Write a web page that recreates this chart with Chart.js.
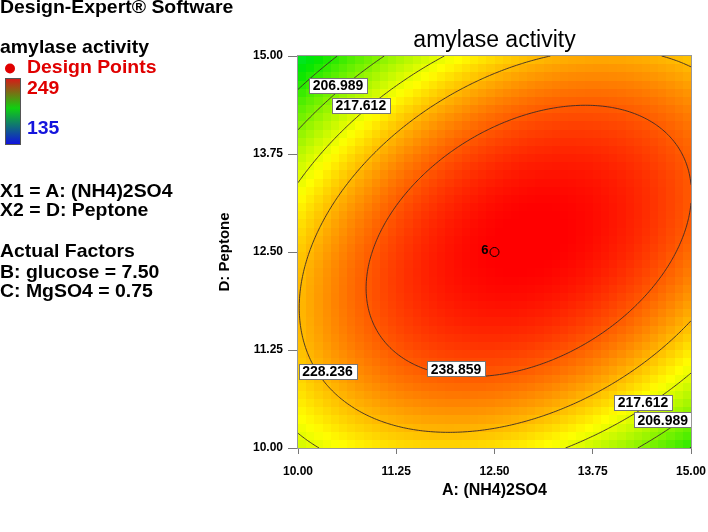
<!DOCTYPE html>
<html>
<head>
<meta charset="utf-8">
<script src="https://cdn.jsdelivr.net/npm/chart.js@4.4.1/dist/chart.umd.min.js"></script>
<style>
html,body{margin:0;padding:0;background:#fff;}
#wrap{position:relative;width:708px;height:532px;overflow:hidden;}
#c{position:absolute;left:0;top:0;}
#panel{position:absolute;left:0;top:0;}
</style>
</head>
<body>
<div id="wrap">
<canvas id="c" width="708" height="532"></canvas>
<svg id="panel" width="260" height="320" xmlns="http://www.w3.org/2000/svg"></svg>
</div>
<script>
// ---------- data ----------
const chartTitle = 'amylase activity';
const xTitle = 'A: (NH4)2SO4';
const yTitle = 'D: Peptone';
const tickValues = [10.00, 11.25, 12.50, 13.75, 15.00];
const tickLabels = ['10.00', '11.25', '12.50', '13.75', '15.00'];
// quadratic response-surface model in coded units (a, d in [-1, 1]), estimated from the contours
const modelTerms = ['Intercept', 'A', 'D', 'AD', 'A^2', 'D^2'];
const modelCoef = [249.1, 5.37, 0.29, 14.83, -17.8, -25.46];
const contourLevels = [196.366, 206.989, 217.612, 228.236, 238.859];
const contourLabelText = ['206.989', '217.612', '228.236', '238.859', '217.612', '206.989'];
const contourLabelA = [10.51, 10.80, 10.375, 12.01, 14.39, 14.64];
const contourLabelD = [14.63, 14.375, 10.98, 11.01, 10.58, 10.36];
const designA = [12.5];
const designD = [12.5];
const designRun = ['6'];
const colorMin = 135;
const colorMax = 249;
const panelLines = ['X1 = A: (NH4)2SO4', 'X2 = D: Peptone', 'Actual Factors', 'B: glucose = 7.50', 'C: MgSO4 = 0.75'];
const gridCells = 48;
const contourGrid = 160;

// ---------- helpers ----------
const aMin = tickValues[0], aMax = tickValues[tickValues.length - 1];
const mid = (aMin + aMax) / 2, half = (aMax - aMin) / 2;
function response(A, D) {
  const a = (A - mid) / half, d = (D - mid) / half;
  const k = modelCoef;
  return k[0] + k[1] * a + k[2] * d + k[3] * a * d + k[4] * a * a + k[5] * d * d;
}
function surfaceColor(v) {
  let t = (colorMax - v) / (colorMax - colorMin);
  t = Math.max(0, Math.min(1, t));
  const h = 240 * t;
  let r, g, b;
  if (h < 60) { r = 255; g = 255 * h / 60; b = 0; }
  else if (h < 120) { r = 255 * (120 - h) / 60; g = 255 - 25 * (h - 60) / 60; b = 0; }
  else if (h < 180) { r = 0; g = 230; b = 230 * (h - 120) / 60; }
  else { r = 0; g = 230 * (240 - h) / 60; b = 230; }
  return 'rgb(' + Math.round(r) + ',' + Math.round(g) + ',' + Math.round(b) + ')';
}

// ---------- left information panel ----------
(function buildPanel() {
  const svg = document.getElementById('panel');
  const NS = 'http://www.w3.org/2000/svg';
  const defs = document.createElementNS(NS, 'defs');
  defs.innerHTML = '<linearGradient id="cb" x1="0" y1="0" x2="0" y2="1">' +
    '<stop offset="0" stop-color="#d81818"/><stop offset="0.45" stop-color="#10d010"/>' +
    '<stop offset="1" stop-color="#1010e0"/></linearGradient>';
  svg.appendChild(defs);
  const g = document.createElementNS(NS, 'g');
  g.setAttribute('transform', 'scale(1.08,1)');
  g.setAttribute('style', "font-family:'Liberation Sans',Arial,sans-serif;font-weight:bold;font-size:18px");
  svg.appendChild(g);
  function txt(s, x, y, fill) {
    const t = document.createElementNS(NS, 'text');
    t.setAttribute('x', x); t.setAttribute('y', y);
    t.setAttribute('fill', fill || '#000');
    t.textContent = s;
    g.appendChild(t);
  }
  txt('Design-Expert\u00AE Software', 0, 13);
  txt(chartTitle, 0, 53);
  txt('Design Points', 25, 73, '#e00000');
  txt(String(colorMax), 25, 94, '#e00000');
  txt(String(colorMin), 25, 134, '#1414dc');
  const ys = [197, 216, 257, 278, 297.5];
  panelLines.forEach((s, i) => txt(s, 0, ys[i]));
  const c = document.createElementNS(NS, 'circle');
  c.setAttribute('cx', 10); c.setAttribute('cy', 68.5); c.setAttribute('r', 5); c.setAttribute('fill', '#e00000');
  svg.appendChild(c);
  const r = document.createElementNS(NS, 'rect');
  r.setAttribute('x', 5.5); r.setAttribute('y', 78.5); r.setAttribute('width', 15); r.setAttribute('height', 66);
  r.setAttribute('fill', 'url(#cb)'); r.setAttribute('stroke', '#555');
  svg.appendChild(r);
})();

// ---------- chart ----------
Chart.defaults.font.family = "'Liberation Sans', Arial, sans-serif";
Chart.defaults.color = '#000';

const surfacePlugin = {
  id: 'surface',
  beforeDatasetsDraw(chart) {
    const { ctx, chartArea: ca, scales: { x, y } } = chart;
    ctx.save();
    ctx.beginPath(); ctx.rect(ca.left, ca.top, ca.right - ca.left, ca.bottom - ca.top); ctx.clip();
    const step = (aMax - aMin) / gridCells;
    const xe = [], ye = [];
    for (let i = 0; i <= gridCells; i++) {
      xe.push(Math.round(x.getPixelForValue(aMin + i * step)));
      ye.push(Math.round(y.getPixelForValue(aMin + i * step)));
    }
    for (let i = 0; i < gridCells; i++) {
      for (let j = 0; j < gridCells; j++) {
        const Ac = aMin + (i + 0.5) * step, Dc = aMin + (j + 0.5) * step;
        ctx.fillStyle = surfaceColor(response(Ac, Dc));
        ctx.fillRect(xe[i], ye[j + 1], xe[i + 1] - xe[i], ye[j] - ye[j + 1]);
      }
    }
    // contour lines (marching squares)
    const M = contourGrid, cs = (aMax - aMin) / M;
    const vals = [];
    for (let i = 0; i <= M; i++) { vals.push([]); for (let j = 0; j <= M; j++) vals[i].push(response(aMin + i * cs, aMin + j * cs)); }
    ctx.strokeStyle = '#3a2a28';
    ctx.lineWidth = 0.9;
    contourLevels.forEach(lv => {
      ctx.beginPath();
      for (let i = 0; i < M; i++) for (let j = 0; j < M; j++) {
        const P = [[i, j], [i + 1, j], [i + 1, j + 1], [i, j + 1]];
        const V = P.map(p => vals[p[0]][p[1]]);
        const pts = [];
        for (let e = 0; e < 4; e++) {
          const a = e, b = (e + 1) % 4;
          if ((V[a] - lv) * (V[b] - lv) < 0) {
            const t = (lv - V[a]) / (V[b] - V[a]);
            const gi = P[a][0] + t * (P[b][0] - P[a][0]);
            const gj = P[a][1] + t * (P[b][1] - P[a][1]);
            pts.push([x.getPixelForValue(aMin + gi * cs), y.getPixelForValue(aMin + gj * cs)]);
          }
        }
        for (let k = 0; k + 1 < pts.length; k += 2) { ctx.moveTo(pts[k][0], pts[k][1]); ctx.lineTo(pts[k + 1][0], pts[k + 1][1]); }
      }
      ctx.stroke();
    });
    // contour labels
    ctx.font = "bold 14px 'Liberation Sans', Arial, sans-serif";
    ctx.textAlign = 'center';
    ctx.textBaseline = 'middle';
    contourLabelText.forEach((s, i) => {
      const cx = x.getPixelForValue(contourLabelA[i]), cy = y.getPixelForValue(contourLabelD[i]);
      const w = ctx.measureText(s).width + 7, h = 15;
      ctx.fillStyle = '#fff';
      ctx.fillRect(Math.round(cx - w / 2) + 0.5, Math.round(cy - h / 2) + 0.5, Math.round(w), h);
      ctx.strokeStyle = '#777'; ctx.lineWidth = 1;
      ctx.strokeRect(Math.round(cx - w / 2) + 0.5, Math.round(cy - h / 2) + 0.5, Math.round(w), h);
      ctx.fillStyle = '#000';
      ctx.fillText(s, cx, cy + 1);
    });
    ctx.restore();
  },
  afterDatasetsDraw(chart) {
    const { ctx, chartArea: ca } = chart;
    ctx.save();
    ctx.strokeStyle = '#999'; ctx.lineWidth = 1;
    ctx.strokeRect(ca.left - 0.5, ca.top - 0.5, ca.right - ca.left + 1, ca.bottom - ca.top + 1);
    // run labels next to design points
    const meta = chart.getDatasetMeta(0);
    ctx.font = "bold 13px 'Liberation Sans', Arial, sans-serif";
    ctx.fillStyle = '#000'; ctx.textAlign = 'right'; ctx.textBaseline = 'middle';
    meta.data.forEach((pt, i) => ctx.fillText(designRun[i], pt.x - 6, pt.y - 2));
    // chart title
    ctx.font = "23px 'Liberation Sans', Arial, sans-serif";
    ctx.textAlign = 'center'; ctx.textBaseline = 'alphabetic';
    ctx.fillText(chartTitle, (ca.left + ca.right) / 2, 46.5);
    ctx.restore();
  }
};

new Chart(document.getElementById('c'), {
  type: 'scatter',
  data: {
    datasets: [{
      label: 'Design Points',
      data: designA.map((a, i) => ({ x: a, y: designD[i] })),
      pointRadius: 4.5,
      pointBackgroundColor: 'rgba(0,0,0,0)',
      pointBorderColor: '#000',
      pointBorderWidth: 1
    }]
  },
  options: {
    responsive: false,
    animation: false,
    layout: { padding: { left: 216, right: 17, top: 56, bottom: 32 } },
    plugins: { legend: { display: false }, tooltip: { enabled: false }, title: { display: false } },
    scales: {
      x: {
        type: 'linear', min: aMin, max: aMax, position: 'bottom',
        afterBuildTicks(s) { s.ticks = tickValues.map(v => ({ value: v })); },
        afterFit(s) { s.height = 52; s.paddingLeft = 0; s.paddingRight = 0; },
        ticks: { callback: (v, i) => tickLabels[i], font: { size: 12, weight: 'bold' }, color: '#000', padding: 10, autoSkip: false, maxRotation: 0 },
        grid: { drawOnChartArea: false, tickLength: 6, color: '#777' },
        border: { color: '#999' },
        title: { display: true, text: xTitle, font: { size: 16, weight: 'bold' }, color: '#000', padding: 0 }
      },
      y: {
        type: 'linear', min: aMin, max: aMax, position: 'left',
        afterBuildTicks(s) { s.ticks = tickValues.map(v => ({ value: v })); },
        afterFit(s) { s.width = 82; s.paddingTop = 0; s.paddingBottom = 0; },
        ticks: { callback: (v, i) => tickLabels[i], font: { size: 12, weight: 'bold' }, color: '#000', padding: 5, autoSkip: false },
        grid: { drawOnChartArea: false, tickLength: 10, color: '#777' },
        border: { color: '#999' },
        title: { display: true, text: yTitle, font: { size: 15, weight: 'bold' }, color: '#000', padding: 0 }
      }
    }
  },
  plugins: [surfacePlugin]
});
</script>
</body>
</html>
